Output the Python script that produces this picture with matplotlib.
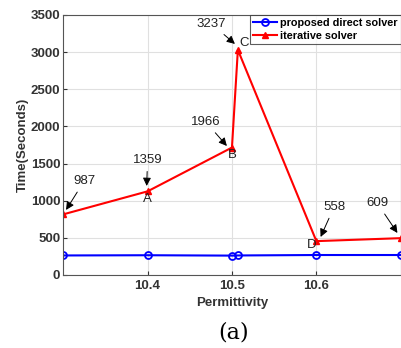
import matplotlib.pyplot as plt
import numpy as np

plt.rcParams['font.family'] = ['Liberation Sans', 'DejaVu Sans']

# permittivity values and solve times (seconds)
eps = np.array([10.3, 10.4, 10.5, 10.507, 10.6, 10.7])
direct = np.array([262, 265, 260, 262, 268, 268])
iterative = np.array([815, 1125, 1715, 3030, 455, 495])

# annotation texts (number, text pos, arrow tip)
notes = ['987', '1359', '1966', '3237', '558', '609']
note_xy = [(10.325, 1265), (10.40, 1548), (10.469, 2060), (10.476, 3379), (10.621, 915), (10.672, 969)]
tip_xy = [(10.3035, 875), (10.399, 1198), (10.494, 1736), (10.5035, 3110), (10.605, 511), (10.696, 565)]
letters = ['A', 'B', 'C', 'D']
letter_xy = [(10.40, 1023), (10.501, 1615), (10.514, 3123), (10.594, 404)]

fig = plt.figure(figsize=(4.02, 3.48), dpi=100)
ax = fig.add_axes([0.157, 0.21, 0.84, 0.747])

ax.plot(eps, direct, 'o-', color='blue', lw=1.5, ms=5, mfc='none', mew=1.3,
        label='proposed direct solver')
ax.plot(eps, iterative, '^-', color='red', lw=1.5, ms=5, label='iterative solver')

for t, xy, tip in zip(notes, note_xy, tip_xy):
    ax.annotate(t, xy=tip, xytext=xy, ha='center', va='center', fontsize=9.5,
                color='#222222',
                arrowprops=dict(arrowstyle='-|>', color='black', lw=0.7,
                                mutation_scale=12, shrinkA=2, shrinkB=0))
for t, xy in zip(letters, letter_xy):
    ax.text(xy[0], xy[1], t, ha='center', va='center', fontsize=9.5, color='#222222')

ax.set_xlim(10.3, 10.7)
ax.set_ylim(0, 3500)
ax.set_xticks([10.4, 10.5, 10.6])
ax.set_yticks(np.arange(0, 3501, 500))
ax.grid(True, color='#e0e0e0', lw=0.8)
ax.set_axisbelow(True)
for s in ax.spines.values():
    s.set_color('#555555')
ax.tick_params(direction='in', length=3, colors='#333333', labelsize=9.5)
ax.tick_params(axis='y', pad=2)
for lab in ax.get_xticklabels() + ax.get_yticklabels():
    lab.set_fontweight('bold')

ax.set_xlabel('Permittivity', fontsize=9.5, fontweight='bold', color='#333333', labelpad=4)
ax.set_ylabel('Time(Seconds)', fontsize=9.5, fontweight='bold', color='#333333', labelpad=1)

leg = ax.legend(loc='upper right', prop={'weight': 'bold', 'size': 7.8},
                frameon=True, fancybox=False, edgecolor='#333333',
                borderpad=0.3, handlelength=2.2, handletextpad=0.3, labelspacing=0.25,
                borderaxespad=0.0)
leg.get_frame().set_linewidth(0.8)

fig.text(0.58, 0.045, '(a)', ha='center', va='center', fontsize=16, family='serif')

fig.savefig('out.png', dpi=100)
